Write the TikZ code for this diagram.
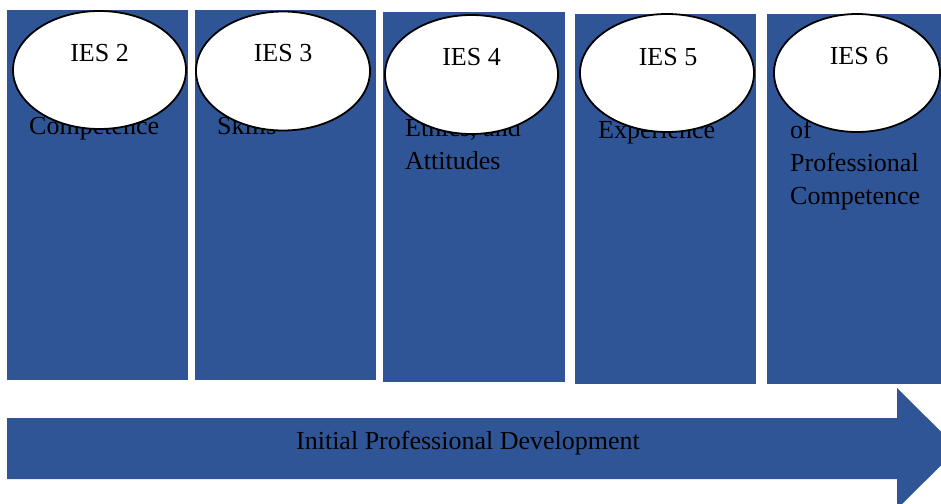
\documentclass[tikz,border=0pt]{standalone}
\usepackage{fontspec}
\setmainfont{Liberation Serif}
\usetikzlibrary{shapes.geometric}
\definecolor{ipdblue}{RGB}{47,85,151}
\begin{document}
\begin{tikzpicture}[x=1pt,y=-1pt,
  font=\fontsize{26}{33}\selectfont,
  panel/.style={fill=ipdblue, draw=none, rectangle, inner sep=0pt, anchor=north west},
  ies/.style={ellipse, draw=black, line width=1.8pt, fill=white, inner sep=0pt},
  txt/.style={anchor=base west, inner sep=0pt, text=black},
  lbl/.style={anchor=base, inner sep=0pt, text=black}]
\useasboundingbox (0,0) rectangle (941,503);
\clip (0,0) rectangle (941,503);
% panels
\node[panel, minimum width=181pt, minimum height=370pt] (r1) at (7,10) {};
\node[panel, minimum width=181pt, minimum height=370pt] (r2) at (195,10) {};
\node[panel, minimum width=182pt, minimum height=370pt] (r3) at (383,12) {};
\node[panel, minimum width=181pt, minimum height=370pt] (r4) at (575,14) {};
\node[panel, minimum width=190pt, minimum height=370pt] (r5) at (767,14) {};
% panel texts
\node[txt] (t1) at (29,134) {Competence};
\node[txt] (t2) at (217,134) {Skills};
\node[txt] (t3a) at (405,136) {Ethics, and};
\node[txt] (t3b) at (405,169) {Attitudes};
\node[txt] (t4) at (598,138) {Experience};
\node[txt] (t5a) at (790,138) {of};
\node[txt] (t5b) at (790,171) {Professional};
\node[txt] (t5c) at (790,204) {Competence};
% ellipses
\node[ies, minimum width=173pt, minimum height=118pt] (e2) at (99.5,70) {};
\node[ies, minimum width=174pt, minimum height=119pt] (e3) at (283,71) {};
\node[ies, minimum width=173pt, minimum height=119pt] (e4) at (471.5,74.5) {};
\node[ies, minimum width=174pt, minimum height=118pt] (e5) at (667,73) {};
\node[ies, minimum width=166pt, minimum height=118pt] (e6) at (857,73) {};
% labels
\node[lbl] (l2) at (99.5,62) {IES 2};
\node[lbl] (l3) at (283,62) {IES 3};
\node[lbl] (l4) at (471.5,65) {IES 4};
\node[lbl] (l5) at (668,65) {IES 5};
\node[lbl] (l6) at (859,64) {IES 6};
% arrow
\fill[ipdblue] (7,418) -- (897,418) -- (897,388) -- (958,448.5) -- (897,509)
  -- (897,479) -- (7,479) -- cycle;
\node[lbl] (ipd) at (468,449) {Initial Professional Development};
\end{tikzpicture}
\end{document}
